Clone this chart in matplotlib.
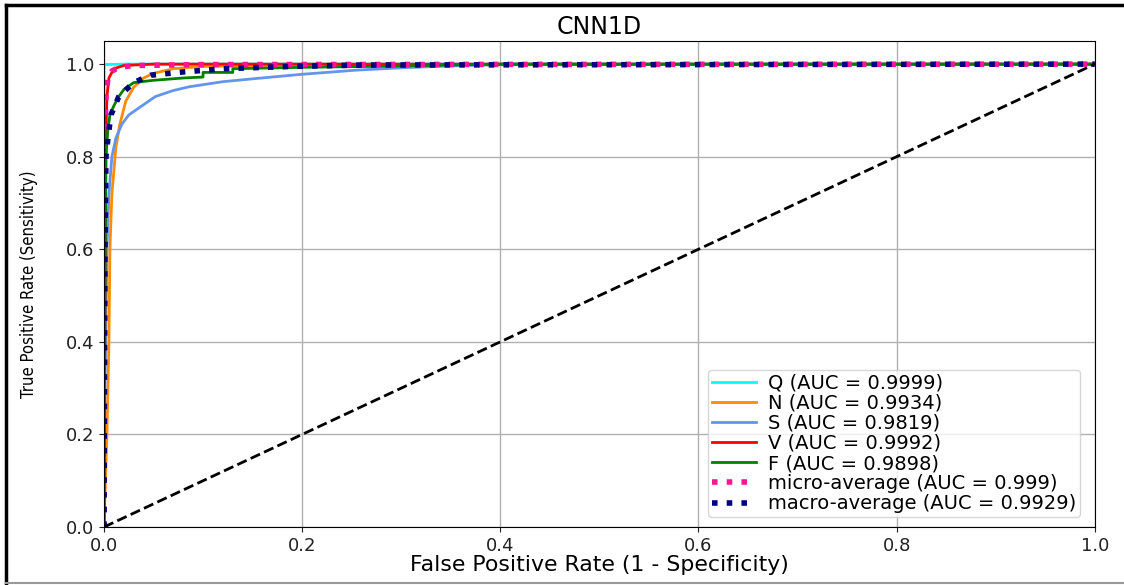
import matplotlib
matplotlib.use("Agg")
import matplotlib.pyplot as plt
from matplotlib.lines import Line2D

# ---- data ----
class_names = ["Q", "N", "S", "V", "F"]
class_auc = ["0.9999", "0.9934", "0.9819", "0.9992", "0.9898"]
class_colors = ["aqua", "darkorange", "cornflowerblue", "red", "green"]

fpr_Q = [0.0, 0.0, 0.0005, 0.02, 1.0]
tpr_Q = [0.0, 0.99, 0.999, 1.0, 1.0]

fpr_N = [0.0, 0.003, 0.005, 0.006, 0.008, 0.012, 0.016, 0.022, 0.03, 0.04, 0.05, 0.07, 0.1, 0.2, 1.0]
tpr_N = [0.0, 0.2, 0.4, 0.6, 0.72, 0.82, 0.87, 0.92, 0.95, 0.97, 0.98, 0.99, 0.995, 0.998, 1.0]

fpr_S = [0.0, 0.001, 0.003, 0.005, 0.008, 0.012, 0.018, 0.025, 0.035, 0.052, 0.07, 0.086, 0.12, 0.154, 0.2, 0.255, 0.3, 0.35, 0.4, 1.0]
tpr_S = [0.0, 0.3, 0.6, 0.72, 0.8, 0.84, 0.87, 0.89, 0.905, 0.93, 0.943, 0.951, 0.962, 0.969, 0.978, 0.987, 0.992, 0.996, 0.999, 1.0]

fpr_V = [0.0, 0.001, 0.002, 0.003, 0.005, 0.01, 0.02, 0.05, 1.0]
tpr_V = [0.0, 0.5, 0.85, 0.93, 0.97, 0.99, 0.997, 1.0, 1.0]

fpr_F = [0.0, 0.001, 0.002, 0.004, 0.006, 0.01, 0.015, 0.02, 0.03, 0.05, 0.08, 0.1, 0.1, 0.13, 0.13, 0.2, 0.3, 0.4, 1.0]
tpr_F = [0.0, 0.5, 0.8, 0.86, 0.89, 0.91, 0.93, 0.945, 0.96, 0.965, 0.97, 0.972, 0.982, 0.982, 0.99, 0.993, 0.996, 1.0, 1.0]

fpr_micro = [0.0, 0.0005, 0.001, 0.002, 0.004, 0.008, 0.015, 0.03, 0.1, 1.0]
tpr_micro = [0.0, 0.7, 0.85, 0.93, 0.97, 0.985, 0.993, 0.997, 0.999, 1.0]
auc_micro = "0.999"

fpr_macro = [0.0, 0.0005, 0.001, 0.002, 0.004, 0.007, 0.015, 0.03, 0.047, 0.08, 0.12, 0.19, 0.26, 1.0]
tpr_macro = [0.0, 0.3, 0.6, 0.8, 0.84, 0.89, 0.93, 0.96, 0.976, 0.983, 0.99, 0.995, 0.998, 1.0]
auc_macro = "0.9929"

class_fpr = [fpr_Q, fpr_N, fpr_S, fpr_V, fpr_F]
class_tpr = [tpr_Q, tpr_N, tpr_S, tpr_V, tpr_F]

x_ticks = [0.0, 0.2, 0.4, 0.6, 0.8, 1.0]
y_ticks = [0.0, 0.2, 0.4, 0.6, 0.8, 1.0]

# ---- figure ----
fig = plt.figure(figsize=(11.24, 5.85), dpi=100)
ax = fig.add_axes([0.0925, 0.0991, 0.8815, 0.8309])

for name, auc, col, fx, ty in zip(class_names, class_auc, class_colors, class_fpr, class_tpr):
    ax.plot(fx, ty, color=col, lw=2, label=f"{name} (AUC = {auc})")

ax.plot(fpr_micro, tpr_micro, color="deeppink", linestyle=":", lw=4,
        label=f"micro-average (AUC = {auc_micro})")
ax.plot(fpr_macro, tpr_macro, color="navy", linestyle=":", lw=4,
        label=f"macro-average (AUC = {auc_macro})")
ax.plot([0, 1], [0, 1], "k--", lw=2)

ax.set_xlim(0.0, 1.0)
ax.set_ylim(0.0, 1.05)
ax.set_xticks(x_ticks)
ax.set_yticks(y_ticks)
ax.set_xticklabels([f"{t:.1f}" for t in x_ticks])
ax.set_yticklabels([f"{t:.1f}" for t in y_ticks])
ax.tick_params(labelsize=13, colors="#222222")
ax.grid(True, color="#b0b0b0", lw=1)
ax.set_axisbelow(True)

ax.set_xlabel("False Positive Rate (1 - Specificity)", fontsize=15.8, labelpad=0)
ax.set_ylabel("True Positive Rate (Sensitivity)", fontsize=12, labelpad=20,
              fontstretch="condensed")
ax.set_title("CNN1D", fontsize=17, pad=5)

ax.legend(loc="lower right", fontsize=14, labelspacing=0.06, handlelength=2.3,
          handletextpad=0.6, borderpad=0.2, framealpha=0.8,
          bbox_to_anchor=(0.995, 0.0))

# outer frame of the picture
fig.add_artist(Line2D([6 / 1124, 1.0], [1 - 5 / 585, 1 - 5 / 585], transform=fig.transFigure,
                      color="black", lw=2.5))
fig.add_artist(Line2D([6 / 1124, 6 / 1124], [1 - 5 / 585, 2 / 585], transform=fig.transFigure,
                      color="black", lw=2.5))
fig.add_artist(Line2D([6 / 1124, 1.0], [2 / 585, 2 / 585], transform=fig.transFigure,
                      color="#999999", lw=1.5))

fig.savefig("out.png", dpi=100)
